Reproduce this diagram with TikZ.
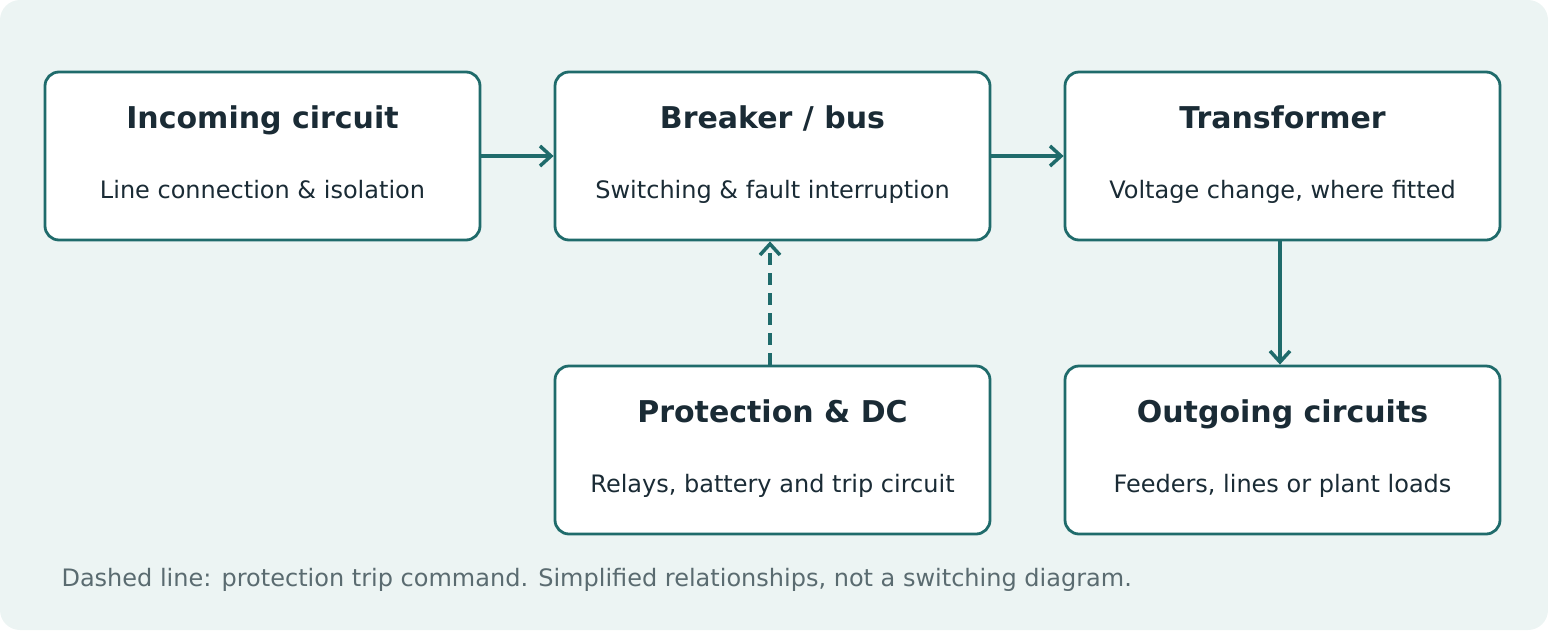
\documentclass[tikz,border=0pt]{standalone}
\usepackage{fontspec}
\setmainfont{DejaVu Sans}
\usetikzlibrary{positioning,arrows.meta}
\definecolor{teal1}{HTML}{1F6B6B}
\definecolor{bgc}{HTML}{ECF4F3}
\definecolor{ink}{HTML}{1A2B35}
\definecolor{note}{HTML}{5A6B70}
\tikzset{
  stage/.style={draw=teal1,line width=2.8pt,fill=white,rounded corners=14pt,
    minimum width=435pt,minimum height=168pt,inner sep=0pt},
  ttl/.style={font=\fontsize{30}{34}\selectfont\bfseries,text=ink,anchor=base},
  sub/.style={font=\fontsize{24}{28}\selectfont,text=ink,anchor=base},
  flow/.style={draw=teal1,line width=4pt,-{Straight Barb[length=11pt,width=20pt,line width=3.5pt]}},
}
\begin{document}
\begin{tikzpicture}[x=1pt,y=-1pt]
%background
\fill[bgc,rounded corners=20pt] (0,0) rectangle (1548,630);
\useasboundingbox (0,0) rectangle (1548,630);

%boxes
\node[stage] (inc) at (262.5,156) {};
\node[stage] (brk) at (772.5,156) {};
\node[stage] (trf) at (1282.5,156) {};
\node[stage] (prt) at (772.5,450) {};
\node[stage] (out) at (1282.5,450) {};

%texts
\node[ttl] at ([yshift=-58pt]inc.north) {Incoming circuit};
\node[sub] at ([yshift=-128pt]inc.north) {Line connection \& isolation};
\node[ttl] at ([yshift=-58pt]brk.north) {Breaker / bus};
\node[sub] at ([yshift=-128pt]brk.north) {Switching \& fault interruption};
\node[ttl] at ([yshift=-58pt]trf.north) {Transformer};
\node[sub] at ([yshift=-128pt]trf.north) {Voltage change, where fitted};
\node[ttl] at ([yshift=-58pt]prt.north) {Protection \& DC};
\node[sub] at ([yshift=-128pt]prt.north) {Relays, battery and trip circuit};
\node[ttl] at ([yshift=-58pt]out.north) {Outgoing circuits};
\node[sub] at ([yshift=-128pt]out.north) {Feeders, lines or plant loads};

%connectors
\draw[flow] (inc.east) -- (brk.west);
\draw[flow] (brk.east) -- (trf.west);
\draw[flow] ([xshift=-2.5pt]trf.south) -- ([xshift=-2.5pt]out.north);
\draw[flow,dash pattern=on 12pt off 8pt] ([xshift=-2.5pt]prt.north) -- ([xshift=-2.5pt]brk.south);

%note
\node[anchor=base west,font=\fontsize{24}{28}\selectfont,text=note] (nt) at (58,586)
  {Dashed line: protection trip command. Simplified relationships, not a switching diagram.};
\end{tikzpicture}
\end{document}
